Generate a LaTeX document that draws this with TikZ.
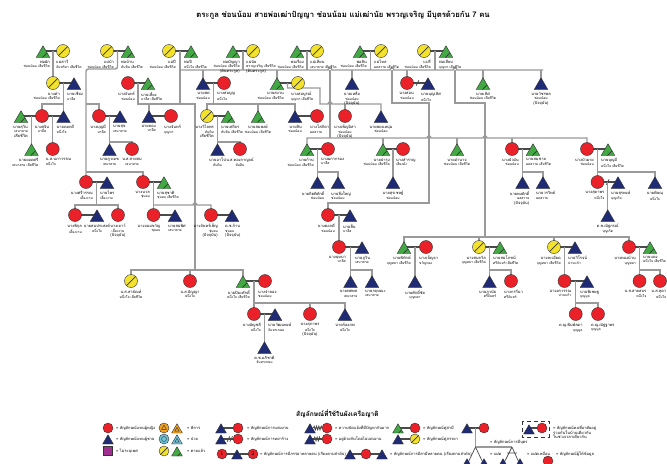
\documentclass[tikz,border=0pt]{standalone}
\usepackage{fontspec}
\newfontfamily\thai[Script=Thai]{Loma}
\usetikzlibrary{shapes.geometric,calc,backgrounds,decorations.pathmorphing}
\definecolor{cred}{HTML}{EA2128}
\definecolor{cnavy}{HTML}{1F2B74}
\definecolor{cgreen}{HTML}{42A843}
\definecolor{cyel}{HTML}{F3E22C}
\definecolor{cline}{HTML}{9A9A9A}
\definecolor{cmar}{HTML}{4A4A4A}
\definecolor{cedge}{HTML}{333333}
\definecolor{corange}{HTML}{F4A21E}
\definecolor{ccyan}{HTML}{6EC6DD}
\definecolor{cpurple}{HTML}{A0308F}
\newcommand\gsm{\fontsize{2.9}{3.5}\selectfont}
\newcommand\psn[7]{\node[#1] (#2) at (#3,#4) {}; \node[lab#5] at (#3,#4) {#6\\\gsm #7};}
\newcommand\mar[3]{\draw[marr] (#2.center) -- (#2.center -| #3.center); \coordinate (#1) at ($(#2.center)!0.5!(#2.center -| #3.center)$);}
\begin{document}
\begin{tikzpicture}[x=0.03cm,y=-0.03cm,
 fem/.style={circle,fill=cred,draw=cedge,line width=0.35pt,minimum size=0.39cm,inner sep=0pt,outer sep=0pt},
 dfem/.style={fem,fill=cyel,path picture={\draw[cedge,line width=0.6pt] ($(path picture bounding box.center)+(-0.2cm,-0.2cm)$) -- ($(path picture bounding box.center)+(0.2cm,0.2cm)$);}},
 mal/.style={regular polygon,regular polygon sides=3,fill=cnavy,draw=cedge,line width=0.35pt,minimum size=0.47cm,inner sep=0pt,outer sep=0pt,anchor=south,yshift=-0.195cm},
 dmal/.style={mal,fill=cgreen,path picture={\draw[cedge,line width=0.5pt] ($(path picture bounding box.center)+(-0.04cm,-0.2cm)$) -- ($(path picture bounding box.center)+(0.25cm,0.1cm)$);}},
 lfem/.style={fem,minimum size=0.3cm},
 ldfem/.style={dfem,minimum size=0.3cm},
 lmal/.style={mal,minimum size=0.37cm,yshift=0.045cm},
 ldmal/.style={dmal,minimum size=0.37cm,yshift=0.045cm},
 intri/.style={regular polygon,regular polygon sides=3,draw=cedge,line width=0.35pt,minimum size=0.17cm,inner sep=0pt},
 lab/.style={font=\thai\fontsize{3.4}{3.8}\selectfont,inner sep=0pt,yshift=-0.27cm},
 labl/.style={lab,anchor=north east,align=right,xshift=0.21cm},
 labr/.style={lab,anchor=north west,align=left,xshift=-0.21cm},
 labc/.style={lab,anchor=north,align=center},
 labe/.style={lab,anchor=north east,align=right,xshift=0.19cm},
 ltx/.style={font=\thai\fontsize{3.4}{4}\selectfont,anchor=west,inner sep=0pt},
 desc/.style={draw=cline,line width=1.2pt},
 marr/.style={draw=cmar,line width=1.5pt},
]
\useasboundingbox (0,0) rectangle (667,463);
\node[font=\thai\bfseries\fontsize{6.6}{8}\selectfont,inner sep=0pt] (title) at (343,15) {ตระกูล ช่อนน้อม สายพ่อเฒ่าปัญญา ช่อนน้อม แม่เฒ่านัย พรวญเจริญ มีบุตรด้วยกัน 7 คน};
% generation 1
\psn{dmal}{A1}{43}{51}{l}{พ่อผัก}{ช่อนน้อม เสียชีวิต}
\psn{dfem}{A2}{63}{51}{r}{แม่สาวี}{จันทร์ทา เสียชีวิต}
\psn{dfem}{A3}{107}{51}{l}{แม่บ้า}{ช่อนน้อม เสียชีวิต}
\psn{dmal}{A4}{128}{51}{r}{พ่อบ้าน}{ทับทิม เสียชีวิต}
\psn{dfem}{A5}{169}{51}{l}{แม่ปี}{ช่อนน้อม เสียชีวิต}
\psn{dmal}{A6}{191}{51}{r}{พ่อปี}{หนึ่งใจ เสียชีวิต}
\psn{dmal}{A7}{233}{51}{l}{พ่อปัญญา}{ช่อนน้อม เสียชีวิต\\(ต้นตระกูล)}
\psn{dfem}{A8}{253}{51}{r}{แม่นัย}{พรวญเจริญ เสียชีวิต\\(ต้นตระกูล)}
\psn{dmal}{A9}{297}{51}{l}{พ่อเรือง}{ช่อนน้อม เสียชีวิต}
\psn{dfem}{A10}{317}{51}{r}{แม่เทียน}{เสนาสาย เสียชีวิต}
\psn{dmal}{A11}{360}{51}{l}{พ่อสิน}{ช่อนน้อม เสียชีวิต}
\psn{dfem}{A12}{381}{51}{r}{แม่ไหล}{ผลสวาย เสียชีวิต}
\psn{dfem}{A13}{424}{51}{l}{แม่รี}{ช่อนน้อม เสียชีวิต}
\psn{dmal}{A14}{446}{51}{r}{พ่อเลียบ}{บุญทา เสียชีวิต}
% generation 2
\psn{dfem}{B1}{53}{83}{l}{นางคำ}{ช่อนน้อม เสียชีวิต}
\psn{mal}{B2}{74}{83}{r}{นายเชียง}{บาลีส}
\psn{fem}{B3}{128}{83}{l}{นางจันทร์}{ช่อนน้อม}
\psn{dmal}{B4}{148}{83}{r}{นายเลี้ยง}{บาลีส เสียชีวิต}
\psn{mal}{B5}{203}{83}{l}{นายสด}{ช่อนน้อม}
\psn{fem}{B6}{224}{83}{r}{นางสมบูญ}{หนึ่งใจ}
\psn{dmal}{B7}{277}{83}{l}{นายสงวน}{ช่อนน้อม เสียชีวิต}
\psn{dfem}{B8}{298}{83}{r}{นางสมบูรณ์}{บุญทา เสียชีวิต}
\psn{mal}{B9}{352}{83}{c}{นายเหลือ}{ช่อนน้อม\\(ปัจจุบัน)}
\psn{fem}{B10}{407}{83}{l}{นางสอน}{ช่อนน้อม}
\psn{mal}{B11}{428}{83}{r}{นายบุญเลิศ}{หนึ่งใจ}
\psn{dmal}{B12}{483}{83}{c}{นายเลิศ}{ช่อนน้อม เสียชีวิต}
\psn{mal}{B13}{541}{83}{c}{นายวัชรพล}{ช่อนน้อม\\(ปัจจุบัน)}
% generation 3
\psn{dmal}{C1}{21}{116}{l}{นายสุวิน}{เสนาสาย\\เสียชีวิต}
\psn{fem}{C2}{42}{116}{c}{นางสุจิน}{บาลีส}
\psn{mal}{C3}{63.5}{116}{r}{นายดอกดี}{หนึ่งใจ}
\psn{fem}{C4}{99}{116}{l}{นางบุญมี}{บาลีส}
\psn{mal}{C5}{120}{116}{r}{นายสุข}{เสนาสาย}
\psn{mal}{C6}{149}{116}{l}{นายทอง}{บาลีส}
\psn{fem}{C7}{171}{116}{r}{นางจันทร์}{บุญทา}
\psn{dfem}{C8}{207}{116}{l}{นางวิไลพร}{ทับทิม\\เสียชีวิต}
\psn{dmal}{C9}{228}{116}{r}{นายเสถียร}{ทับทิม เสียชีวิต}
\psn{dmal}{C10}{258}{116}{c}{นายสมพงษ์}{ช่อนน้อม เสียชีวิต}
\psn{mal}{C11}{295}{116}{l}{นายสิน}{ช่อนน้อม}
\psn{fem}{C12}{317}{116}{r}{นางโสภิดา}{ผลสวาย}
\psn{fem}{C13}{345}{116}{c}{นางเพ็ญนิสา}{ช่อนน้อม\\(ปัจจุบัน)}
\psn{mal}{C14}{381}{116}{c}{นายพยนหนุ่ม}{ช่อนน้อม}
% row D
\psn{dmal}{D1}{31.5}{149}{l}{นายยอดศรี}{เสนาสาย เสียชีวิต}
\psn{fem}{D2}{52.75}{149}{r}{น.ส.นภาวรรณ}{หนึ่งใจ}
\psn{mal}{D3}{109.5}{149}{c}{นายภูวเดช}{เสนาสาย}
\psn{fem}{D4}{132}{149}{c}{น.ส.สายสม}{เสนาสาย}
\psn{mal}{D5}{217.5}{149}{c}{นายอาโป}{ทับทิม}
\psn{fem}{D6}{240}{149}{c}{น.ส.ทองกาญจน์}{ทับทิม}
\psn{dmal}{D7}{307}{149}{l}{นายก้าน}{ช่อนน้อม เสียชีวิต}
\psn{fem}{D8}{328}{149}{r}{นางผกากรอง}{บาลีส}
\psn{dmal}{D9}{383}{149}{l}{นายบำรุง}{ช่อนน้อม เสียชีวิต}
\psn{fem}{D10}{403}{149}{r}{นางสำราญ}{เสียงดัง}
\psn{dmal}{D11}{457}{149}{c}{นายอำนาจ}{ช่อนน้อม เสียชีวิต}
\psn{fem}{D12}{512}{149}{l}{นางบัวผัน}{ช่อนน้อม}
\psn{dmal}{D13}{533}{149}{r}{นายสมชาย}{ผลสวาย เสียชีวิต}
\psn{fem}{D14}{587}{149}{l}{นางบัวผาย}{ช่อนน้อม}
\psn{dmal}{D15}{608}{149}{r}{นายบุญมี}{หนึ่งใจ เสียชีวิต}
% row E
\psn{fem}{E1}{86}{182}{l}{นางศรีวรรณ}{เลี้ยงงาม}
\psn{mal}{E2}{107}{182}{r}{นายไพร}{เลี้ยงงาม}
\psn{fem}{E3}{143}{182}{l}{นางนวล}{ชุ่มอบ}
\psn{dmal}{E4}{164}{182}{r}{นายสุชาติ}{ชุ่มอบ เสียชีวิต}
\psn{mal}{E5}{317.5}{182}{l}{นายกิตติศักดิ์}{ช่อนน้อม}
\psn{mal}{E6}{338}{182}{r}{นายสิ่งใหญ่}{ช่อนน้อม}
\psn{mal}{E7}{393}{182}{c}{นายสุรเชษฐ์}{ช่อนน้อม}
\psn{mal}{E8}{522.5}{182}{l}{นายพงศักดิ์}{ผลสวาย\\(ปัจจุบัน)}
\psn{mal}{E9}{543}{182}{r}{นายวรวิทย์}{ผลสวาย}
\psn{fem}{E10}{597.5}{182}{l}{นางสุดาพร}{หนึ่งใจ}
\psn{mal}{E11}{618}{182}{r}{นายสุรพงษ์}{บุญเกิด}
\psn{mal}{E12}{655}{182}{c}{นายพิษณุ}{หนึ่งใจ}
% row F
\psn{fem}{F1}{75}{215}{l}{นางพิกุล}{เลี้ยงงาม}
\psn{mal}{F2}{97}{215}{c}{นายสมประสงค์}{หนึ่งใจ}
\psn{fem}{F3}{118}{215}{c}{นางเยาว์}{เลี้ยงงาม\\(ปัจจุบัน)}
\psn{fem}{F4}{153.5}{215}{l}{นางจอมขวัญ}{ชุ่มอบ}
\psn{mal}{F5}{175}{215}{r}{นายสมพิศ}{เสนาสาย}
\psn{fem}{F6}{211}{215}{l}{นางจันทร์เพ็ญ}{ชุ่มอบ\\(ปัจจุบัน)}
\psn{mal}{F7}{232}{215}{r}{ด.ช.ก้าน}{ชุ่มอบ\\(ปัจจุบัน)}
\psn{fem}{F8}{328}{215}{l}{นางดอกดี}{ช่อนน้อม}
\psn{mal}{F9}{350}{215}{r}{นายสิ้น}{บาลีส}
\psn{mal}{F10}{607.75}{215}{c}{ด.ช.ณัฐกรณ์}{บุญเกิด}
% row G
\psn{fem}{G1}{339}{247}{l}{นางบุษบา}{บาลีส}
\psn{mal}{G2}{362}{247}{r}{นายภูวิน}{เสนาสาย}
\psn{dmal}{G3}{404}{247}{l}{นายพิทักษ์}{บุญทยา เสียชีวิต}
\psn{fem}{G4}{426}{247}{r}{นางเบ็ญจา}{ขวัญทอง}
\psn{dfem}{G5}{479}{247}{l}{นางสมถวิล}{บุญทยา เสียชีวิต}
\psn{dmal}{G6}{500}{247}{r}{นายสมโภชน์}{ศรีจันทร์ เสียชีวิต}
\psn{dfem}{G7}{554}{247}{l}{นางละเอียด}{บุญทยา เสียชีวิต}
\psn{mal}{G8}{575}{247}{r}{นายวิโรจน์}{ปานแก้ว}
\psn{fem}{G9}{629}{247}{l}{นางทองม้วน}{บุญทยา}
\psn{dmal}{G10}{650}{247}{r}{นายแดง}{หนึ่งใจ เสียชีวิต}
% row H
\psn{dfem}{H1}{131}{281}{c}{น.ส.สายัณห์}{หนึ่งใจ เสียชีวิต}
\psn{fem}{H2}{190}{281}{c}{น.ส.ปัญญา}{หนึ่งใจ}
\psn{dmal}{H3}{243}{281}{l}{นายปิยะศักดิ์}{หนึ่งใจ เสียชีวิต}
\psn{fem}{H4}{265}{281}{r}{นางจำลอง}{ช่อนน้อม}
\psn{mal}{H5}{350.5}{281}{l}{นายทศพล}{เสนาสาย}
\psn{mal}{H6}{372}{281}{r}{นายกฤษณะ}{เสนาสาย}
\psn{mal}{H7}{415}{281}{c}{นายศักดิ์ชัย}{บุญทยา}
\psn{mal}{H8}{489.5}{281}{l}{นายภูวนัย}{ศรีจันทร์}
\psn{fem}{H9}{511}{281}{r}{นางกรวีนา}{ศรีจันทร์}
\psn{fem}{H10}{564.5}{281}{l}{นางอรวรรณ}{ปานแก้ว}
\psn{mal}{H11}{587}{281}{r}{นายพิเชษฐ}{บุญมูล}
\psn{fem}{H12}{639.5}{281}{l}{น.ส.สายสมร}{หนึ่งใจ}
\psn{fem}{H13}{660}{281}{e}{น.ส.สุดา}{หนึ่งใจ}
% row I, J
\psn{fem}{I1}{254}{314}{l}{นางอัญชลี}{หนึ่งใจ}
\psn{mal}{I2}{275}{314}{r}{นายวัฒนพงษ์}{จันทรเกษม}
\psn{fem}{I3}{310}{314}{c}{นางสุภาพร}{หนึ่งใจ\\(ปัจจุบัน)}
\psn{mal}{I4}{345}{314}{c}{นายก้องภพ}{หนึ่งใจ}
\psn{fem}{I5}{575.75}{314}{l}{ด.ญ.พิมพ์ลดา}{บุญมูล}
\psn{fem}{I6}{598}{314}{r}{ด.ญ.ณัฐฐาพร}{บุญมูล}
\psn{mal}{J1}{264.5}{347}{c}{ด.ช.อภิชาติ}{จันทรเกษม}
% legend
\node[font=\thai\bfseries\fontsize{5.6}{6}\selectfont,anchor=west,inner sep=0pt] (lt) at (296,414) {สัญลักษณ์ที่ใช้ในผังเครือญาติ};
\node[lfem] (L1) at (108,428) {}; \node[ltx] at (116,428) {= สัญลักษณ์แทนผู้หญิง};
\node[lmal] (L2) at (108,439) {}; \node[ltx] at (116,439) {= สัญลักษณ์แทนผู้ชาย};
\node[draw=cedge,fill=cpurple,minimum size=0.27cm,inner sep=0pt,line width=0.35pt] (L3) at (108,451) {}; \node[ltx] at (116,451) {= ไม่ระบุเพศ};
\node[lfem,fill=corange] (L4) at (164,428) {}; \node[intri] at (L4.center) {};
\node[lmal,fill=corange] (L5) at (177,428) {}; \node[intri,minimum size=0.15cm] at (L5.center) {};
\node[ltx] at (187,428) {= พิการ};
\node[lfem,fill=ccyan] (L6) at (164,439) {}; \node[circle,draw=cedge,line width=0.35pt,minimum size=0.15cm,inner sep=0pt] at (L6.center) {};
\node[lmal,fill=ccyan] (L7) at (177,439) {}; \node[intri,minimum size=0.15cm] at (L7.center) {};
\node[ltx] at (187,439) {= ป่วย};
\node[ldfem] (L8) at (164,451) {}; \node[ldmal] (L9) at (177,451) {}; \node[ltx] at (187,451) {= ตายแล้ว};
\node[lmal] (L10) at (221,428) {}; \node[lfem] (L11) at (238,428) {}; \node[ltx] at (247,428) {= สัญลักษณ์การแต่งงาน};
\node[lmal] (L12) at (221,439) {}; \node[lfem] (L13) at (238,439) {}; \node[ltx] at (247,439) {= สัญลักษณ์การหย่าร้าง};
\node[lfem] (L14) at (222,454) {\fontsize{4.5}{5}\selectfont 1}; \node[lmal] (L15) at (237,454) {}; \node[lfem] (L16) at (253,454) {\fontsize{4.5}{5}\selectfont 2};
\node[ltx] at (260,454) {= สัญลักษณ์การมีภรรยาหลายคน (เรียงตามลำดับ)};
\node[lmal] (L17) at (310,428) {}; \node[lfem] (L18) at (327,428) {}; \node[ltx] at (335,428) {= ความขัดแย้งที่มีปัญหากันมาก};
\node[lmal] (L19) at (310,439) {}; \node[lfem] (L20) at (327,439) {}; \node[ltx] at (335,439) {= อยู่ด้วยกันโดยไม่แต่งงาน};
\node[lmal] (L21) at (350,454) {}; \node[lfem] (L22) at (366,454) {}; \node[lmal] (L23) at (382,454) {};
\node[ltx] at (390,454) {= สัญลักษณ์การมีสามีหลายคน (เรียงตามลำดับ)};
\node[ldmal] (L24) at (398,428) {}; \node[lfem] (L25) at (415,428) {}; \node[ltx] at (423,428) {= สัญลักษณ์คู่สามี};
\node[lmal] (L26) at (398,439) {}; \node[ldfem] (L27) at (415,439) {}; \node[ltx] at (423,439) {= สัญลักษณ์คู่ภรรยา};
\node[lmal] (L28) at (467,428) {}; \node[lfem] (L29) at (484,428) {};
\node[ltx] at (490,442) {= สัญลักษณ์การมีบุตร};
\node[lmal] (L30) at (467,463) {}; \node[lmal] (L31) at (484,463) {};
\node[lmal] (L32) at (503,463) {}; \node[lmal] (L33) at (520,463) {};
\node[ltx] at (490,454) {= แฝด}; \node[ltx] at (527,454) {= แฝดเหมือน};
\node[lmal] (L34) at (529,429) {}; \node[lfem] (L35) at (542,428) {};
\node[ltx,anchor=north west,align=left] at (553,425) {= สัญลักษณ์คนที่อาศัยอยู่\\ร่วมกันในบ้านเดียวกัน\\ในช่วงเวลาเดียวกัน};
\node[lfem] (L36) at (548,461) {}; \node[ltx] at (556,454) {= สัญลักษณ์ผู้ให้ข้อมูล};
\begin{pgfonlayer}{background}
\fill[white] (0,0) rectangle (667,463);
% marriages
\mar{mA12}{A2}{A1} \mar{mA34}{A3}{A4} \mar{mA56}{A5}{A6} \mar{mA78}{A8}{A7}
\mar{mA910}{A10}{A9} \mar{mA1112}{A12}{A11} \mar{mA1314}{A13}{A14}
\mar{mB12}{B1}{B2} \mar{mB34}{B3}{B4} \mar{mB56}{B6}{B5} \mar{mB78}{B8}{B7} \mar{mB1011}{B10}{B11}
\mar{mC12}{C2}{C1} \mar{mC23}{C2}{C3} \mar{mC45}{C4}{C5} \mar{mC67}{C7}{C6} \mar{mC89}{C8}{C9} \mar{mC1112}{C12}{C11}
\mar{mD78}{D8}{D7} \mar{mD910}{D10}{D9} \mar{mD1213}{D12}{D13} \mar{mD1415}{D14}{D15}
\mar{mE12}{E1}{E2} \mar{mE34}{E3}{E4} \mar{mE1011}{E10}{E11}
\mar{mF12}{F1}{F2} \mar{mF45}{F4}{F5} \mar{mF67}{F6}{F7} \mar{mF89}{F8}{F9}
\mar{mG12}{G1}{G2} \mar{mG34}{G4}{G3} \mar{mG56}{G5}{G6} \mar{mG78}{G7}{G8} \mar{mG910}{G9}{G10}
\mar{mH34}{H4}{H3} \mar{mH1011}{H10}{H11} \mar{mI12}{I1}{I2}
\draw[cmar,line width=0.6pt] ($(mB1011)+(-0.04cm,-0.08cm)$) -- ($(mB1011)+(0.04cm,0.08cm)$);
\draw[cmar,line width=0.6pt] ($(mE1011)+(-0.04cm,-0.08cm)$) -- ($(mE1011)+(0.04cm,0.08cm)$);
% descent lines
\draw[desc] (mA12) -- (B1);
\draw[desc,rounded corners=2pt] (mA34) |- (86,69) -- (E1.center);
\draw[desc] (86,104) -| (C4.center);
\draw[desc] (86,172) -| (E3.center);
\draw[desc] (mA56) |- (195,104) -- (195,270);
\draw[desc] (H1.center) |- (H3.center |- 0,270) -- (H3.center);
\draw[desc] (H2.center) -- (H2.center |- 0,270);
\draw[desc] (mA78) -- (mA78 |- 0,70);
\draw[desc] (180,70) -- (328,70) arc[start angle=180,end angle=0,radius=0.06cm] -- (390,70) arc[start angle=180,end angle=0,radius=0.06cm] -- (453,70) arc[start angle=180,end angle=0,radius=0.06cm] -- (543,70);
\foreach \n in {B5,B7,B9,B10,B12,B13} \draw[desc] (\n.center) -- (\n.center |- 0,70);
\foreach \n in {mA910,mA1112,mA1314} \draw[desc] (\n) -- (\n |- 0,70);
\draw[desc] (330,70) -- (330,138);
\draw[desc] (D7.center) |- (427,138) arc[start angle=180,end angle=0,radius=0.06cm] -- (483,138) arc[start angle=180,end angle=0,radius=0.06cm] -- (D14.center |- 0,138) -- (D14.center);
\foreach \n in {D9,D11,D12} \draw[desc] (\n.center) -- (\n.center |- 0,138);
\draw[desc] (392,70) |- (429,103) -- (429,203) -| (F8.center);
\draw[desc] (455,70) |- (485,103) -- (485,237);
\draw[desc] (G3.center) |- (G9.center |- 0,237) -- (G9.center);
\foreach \n in {G5,G7} \draw[desc] (\n.center) -- (\n.center |- 0,237);
\draw[desc] (mB12) -- (C3.center);
\draw[desc] (C2.center) |- (63.5,104);
\draw[desc] (mB34) |- (180,104);
\draw[desc] (C6.center) -- (C6.center |- 0,104);
\draw[desc] (mB56) -- (mB56 |- 0,104);
\draw[desc] (C8.center) |- (C11.center |- 0,104) -- (C11.center);
\draw[desc] (C10.center) -- (C10.center |- 0,104);
\draw[desc] (mB78) -- (287.5,88) -- (320,88) -- (320,104) -- (328,104) arc[start angle=180,end angle=0,radius=0.06cm] -- (C14.center |- 0,104) -- (C14.center);
\draw[desc] (C13.center) -- (C13.center |- 0,104);
\draw[desc] (mC12) -- (D1.center);
\draw[desc] (mC23) -- (D2.center);
\draw[desc] (mC45) -- (D3.center); \draw[desc] (D3.center |- 0,142) -| (D4.center);
\draw[desc] (mC89) -- (D5.center); \draw[desc] (D5.center |- 0,142) -| (D6.center);
\draw[desc] (mD78) -- (E5.center); \draw[desc] (E5.center |- 0,172) -| (E6.center);
\draw[desc] (mD910) -- (E7.center);
\draw[desc] (mD1213) -- (E8.center); \draw[desc] (E8.center |- 0,172) -| (E9.center);
\draw[desc] (mD1415) -- (E10.center); \draw[desc] (E10.center |- 0,172) -| (E12.center);
\draw[desc] (mE1011) -- (F10.center);
\draw[desc] (mE12) -- (mE12 |- 0,205); \draw[desc] (F1.center) |- (F3.center |- 0,205) -- (F3.center);
\draw[desc] (mE34) -- (F4.center); \draw[desc] (F4.center |- 0,205) -- (193,205) arc[start angle=180,end angle=0,radius=0.06cm] -| (F6.center);
\draw[desc] (mF89) -- (G1.center);
\draw[desc] (mG12) -- (H5.center); \draw[desc] (H5.center |- 0,270) -| (H6.center);
\draw[desc] (mG34) -- (H7.center);
\draw[desc] (mG56) -- (H8.center); \draw[desc] (H8.center |- 0,270) -| (H9.center);
\draw[desc] (mG78) -- (H10.center);
\draw[desc] (mH1011) -- (I5.center); \draw[desc] (I5.center |- 0,303) -| (I6.center);
\draw[desc] (mG910) -- (H12.center); \draw[desc] (H12.center |- 0,270) -| (H13.center);
\draw[desc] (mH34) -- (I1.center); \draw[desc] (I1.center |- 0,303) -| (I4.center); \draw[desc] (I3.center) -- (I3.center |- 0,303);
\draw[desc] (mI12) -- (J1.center);
% legend lines
\mar{lk1}{L11}{L10} \mar{lk2}{L13}{L12}
\draw[cmar,line width=0.6pt] ($(lk2)+(-0.07cm,-0.08cm)$) -- ($(lk2)+(0.01cm,0.08cm)$) ($(lk2)+(0.01cm,-0.08cm)$) -- ($(lk2)+(0.09cm,0.08cm)$);
\draw[marr] (L14.center) -- (L16.center);
\draw[marr] (L22.center -| L21.center) -- (L22.center -| L23.center);
\draw[cmar,line width=0.8pt,decorate,decoration={zigzag,amplitude=1.4pt,segment length=2pt}] (L18.center -| L17.east) -- (L18.west);
\draw[marr] (L20.center -| L19.center) -- (L20.center);
\draw[cmar,line width=0.8pt,decorate,decoration={zigzag,amplitude=1.4pt,segment length=2pt}] ($(L20.center -| L19.east)+(0.02cm,0)$) -- ($(L20.center -| L19.east)+(0.2cm,0)$);
\mar{lk3}{L25}{L24} \mar{lk4}{L27}{L26} \mar{lk5}{L29}{L28} \mar{lk6}{L35}{L34}
\draw[desc] (lk5) -- (lk5 |- 0,447) -- (512,447);
\draw[cmar,line width=0.6pt] (lk5 |- 0,447) -- (L30.center) (lk5 |- 0,447) -- (L31.center);
\draw[cmar,line width=0.6pt] (512,447) -- (L32.center) (512,447) -- (L33.center) (507,453) -- (517,453);
\draw[dashed,draw=cedge,line width=0.4pt] (522,421) rectangle (549,437);
\end{pgfonlayer}
\end{tikzpicture}
\end{document}
